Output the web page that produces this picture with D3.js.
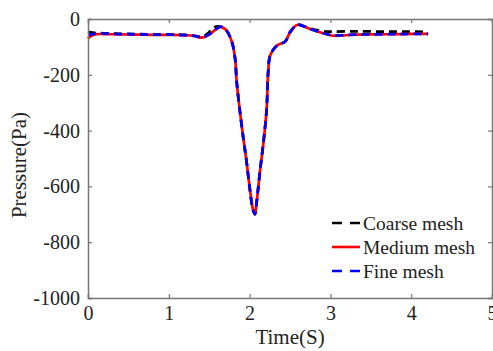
<!DOCTYPE html>
<html>
<head>
<meta charset="utf-8">
<script src="https://cdn.jsdelivr.net/npm/d3@7"></script>
<style>
  html, body { margin: 0; padding: 0; background: #fff; }
  svg text { font-family: "Liberation Serif", "Times New Roman", serif; fill: #222; }
</style>
</head>
<body>
<svg id="chart" width="493" height="351"></svg>
<script>
// time samples (s)
const mediumTime = [0, 0.03, 0.08, 0.2, 0.4, 0.6, 0.8, 1.0, 1.2, 1.32, 1.41, 1.49, 1.57, 1.64, 1.71, 1.78, 1.82, 1.84, 1.88, 1.92, 1.96, 2.0, 2.04, 2.065, 2.09, 2.13, 2.17, 2.21, 2.23, 2.25, 2.29, 2.35, 2.44, 2.5, 2.58, 2.62, 2.75, 2.91, 3.04, 3.3, 3.6, 3.9, 4.21];
// pressure (Pa)
const mediumValues = [-70, -62, -55, -54, -55, -56, -57, -57, -58, -61, -67, -58, -40, -28, -40, -81, -141, -225, -330, -422, -506, -602, -680, -700, -649, -542, -446, -327, -189, -135, -111, -93, -81, -48, -22, -21, -36, -51, -60, -56, -55, -54, -53];
const fineValues = [-55, -55, -53, -52, -54, -55, -56, -56, -58, -61, -66, -57, -40, -27, -40, -82, -141, -225, -330, -422, -506, -602, -682, -700, -649, -542, -446, -327, -189, -135, -111, -93, -81, -47, -22, -21, -36, -51, -58, -56, -55, -54, -53];
const coarseTime = [0, 0.03, 0.08, 0.2, 0.4, 0.6, 0.8, 1.0, 1.2, 1.32, 1.41, 1.49, 1.55, 1.62, 1.71, 1.78, 1.82, 1.84, 1.88, 1.92, 1.96, 2.0, 2.04, 2.065, 2.09, 2.13, 2.17, 2.21, 2.23, 2.25, 2.29, 2.35, 2.44, 2.5, 2.58, 2.62, 2.75, 2.91, 3.04, 3.3, 3.6, 3.9, 4.21];
const coarseValues = [-46, -48, -50, -51, -53, -54, -55, -55, -57, -60, -64, -50, -31, -27, -40, -81, -141, -225, -330, -422, -506, -602, -682, -698, -649, -542, -446, -327, -189, -135, -111, -93, -81, -48, -22, -21, -34, -44, -45, -44, -45, -45, -46];

const xTicks = [0, 1, 2, 3, 4, 5];
const yTicks = [0, -200, -400, -600, -800, -1000];
const seriesNames = ["Coarse mesh", "Medium mesh", "Fine mesh"];

const svg = d3.select("#chart");
const plotLeft = 88, plotRight = 492, plotTop = 19, plotBottom = 298;

const x = d3.scaleLinear().domain([0, 5]).range([plotLeft, plotRight]);
const y = d3.scaleLinear().domain([-1000, 0]).range([plotBottom, plotTop]);

const toPts = (ts, vs) => ts.map((t, i) => [t, vs[i]]);
const series = [
  { name: seriesNames[0], pts: toPts(coarseTime, coarseValues), color: "#000", dash: "8,5" },
  { name: seriesNames[1], pts: toPts(mediumTime, mediumValues), color: "#ff0000", dash: null },
  { name: seriesNames[2], pts: toPts(mediumTime, fineValues), color: "#0000ff", dash: "8,5" }
];

const line = d3.line()
  .x(d => x(d[0]))
  .y(d => y(d[1]))
  .curve(d3.curveCatmullRom.alpha(0.5));

// lines
series.forEach(s => {
  svg.append("path")
    .attr("d", line(s.pts))
    .attr("fill", "none")
    .attr("stroke", s.color)
    .attr("stroke-width", 2.7)
    .attr("stroke-dasharray", s.dash);
});

// axes (box with inward ticks)
const axisColor = "#777";
const gB = svg.append("g").attr("transform", `translate(0,${plotBottom})`)
  .call(d3.axisBottom(x).tickValues(xTicks).tickSize(-4).tickPadding(8).tickFormat(d3.format("d")));
const gT = svg.append("g").attr("transform", `translate(0,${plotTop})`)
  .call(d3.axisTop(x).tickValues(xTicks).tickSize(-4).tickFormat(""));
const gL = svg.append("g").attr("transform", `translate(${plotLeft},0)`)
  .call(d3.axisLeft(y).tickValues(yTicks).tickSize(-4).tickPadding(8).tickFormat(d3.format("d")));
const gR = svg.append("g").attr("transform", `translate(${plotRight},0)`)
  .call(d3.axisRight(y).tickValues(yTicks).tickSize(-4).tickFormat(""));

[gB, gT, gL, gR].forEach(g => {
  g.select(".domain").attr("stroke", axisColor).attr("stroke-width", 1.5);
  g.selectAll(".tick line").attr("stroke", axisColor).attr("stroke-width", 1.2);
  g.selectAll("text")
    .attr("font-family", "Liberation Serif, serif")
    .attr("font-size", 20)
    .attr("fill", "#222");
});
gL.selectAll(".tick text").text(d => d === 0 ? "0" : "-" + Math.abs(d));

// axis titles
svg.append("text")
  .attr("x", (plotLeft + plotRight) / 2)
  .attr("y", 344)
  .attr("text-anchor", "middle")
  .attr("font-size", 21)
  .text("Time(S)");

svg.append("text")
  .attr("transform", "translate(26,165) rotate(-90)")
  .attr("text-anchor", "middle")
  .attr("font-size", 21)
  .text("Pressure(Pa)");

// legend
const legend = svg.append("g");
const legendY = [223, 247, 271];
series.forEach((s, i) => {
  legend.append("line")
    .attr("x1", 332).attr("x2", 360)
    .attr("y1", legendY[i]).attr("y2", legendY[i])
    .attr("stroke", s.color)
    .attr("stroke-width", 2.6)
    .attr("stroke-dasharray", s.dash ? "10,8" : null);
  legend.append("text")
    .attr("x", 363)
    .attr("y", legendY[i])
    .attr("dy", "0.35em")
    .attr("font-size", 19.5)
    .text(s.name);
});
</script>
</body>
</html>
